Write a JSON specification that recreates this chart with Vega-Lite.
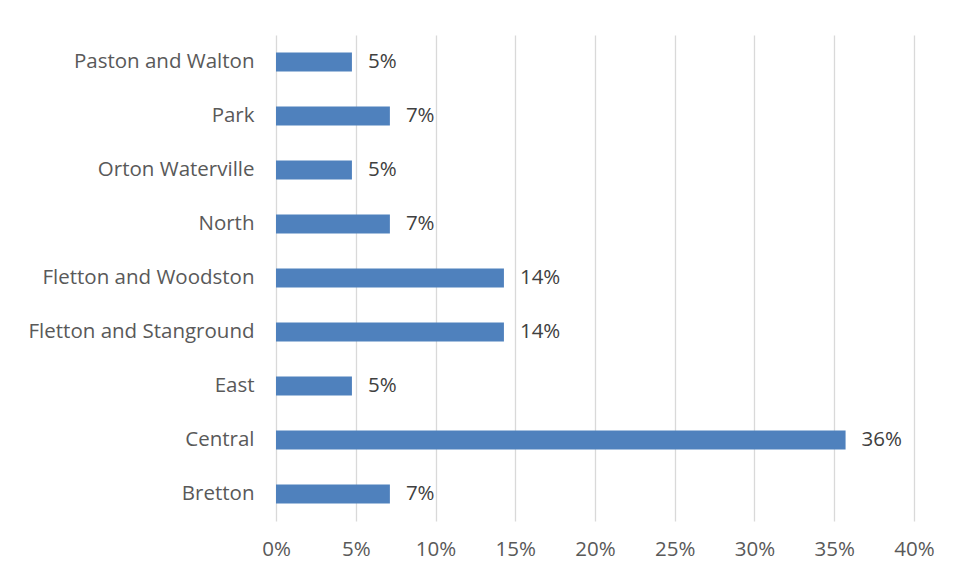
{
  "$schema": "https://vega.github.io/schema/vega-lite/v6.json",
  "autosize": "none",
  "width": 638,
  "height": 486,
  "padding": {"left": 276, "top": 35, "right": 39, "bottom": 54},
  "background": "white",
  "config": {
    "view": {"stroke": null},
    "font": "Open Sans"
  },
  "data": {
    "values": [
      {"ward": "Paston and Walton", "share": 0.0476},
      {"ward": "Park", "share": 0.0714},
      {"ward": "Orton Waterville", "share": 0.0476},
      {"ward": "North", "share": 0.0714},
      {"ward": "Fletton and Woodston", "share": 0.1429},
      {"ward": "Fletton and Stanground", "share": 0.1429},
      {"ward": "East", "share": 0.0476},
      {"ward": "Central", "share": 0.3571},
      {"ward": "Bretton", "share": 0.0714}
    ]
  },
  "encoding": {
    "y": {
      "field": "ward",
      "type": "nominal",
      "sort": null,
      "scale": {"paddingInner": 0.65, "paddingOuter": 0.325},
      "axis": {
        "title": null,
        "domain": false,
        "ticks": false,
        "labelFontSize": 20.5,
        "labelColor": "#595959",
        "labelPadding": 22,
        "labelFont": "Open Sans",
        "labelLimit": 300
      }
    },
    "x": {
      "field": "share",
      "type": "quantitative",
      "scale": {"domain": [0, 0.4], "nice": false},
      "axis": {
        "title": null,
        "format": ".0%",
        "values": [0, 0.05, 0.1, 0.15, 0.2, 0.25, 0.3, 0.35, 0.4],
        "domain": false,
        "ticks": false,
        "grid": true,
        "gridColor": "#d9d9d9",
        "gridWidth": 1.3,
        "labelFlush": false,
        "labelOverlap": false,
        "labelFontSize": 20.5,
        "labelColor": "#595959",
        "labelPadding": 18,
        "labelFont": "Open Sans"
      }
    }
  },
  "layer": [
    {"mark": {"type": "bar", "color": "#4f81bd"}},
    {
      "mark": {"type": "text", "align": "left", "baseline": "middle", "dx": 16, "fontSize": 20.5, "color": "#404040"},
      "encoding": {"text": {"field": "share", "type": "quantitative", "format": ".0%"}}
    }
  ]
}
